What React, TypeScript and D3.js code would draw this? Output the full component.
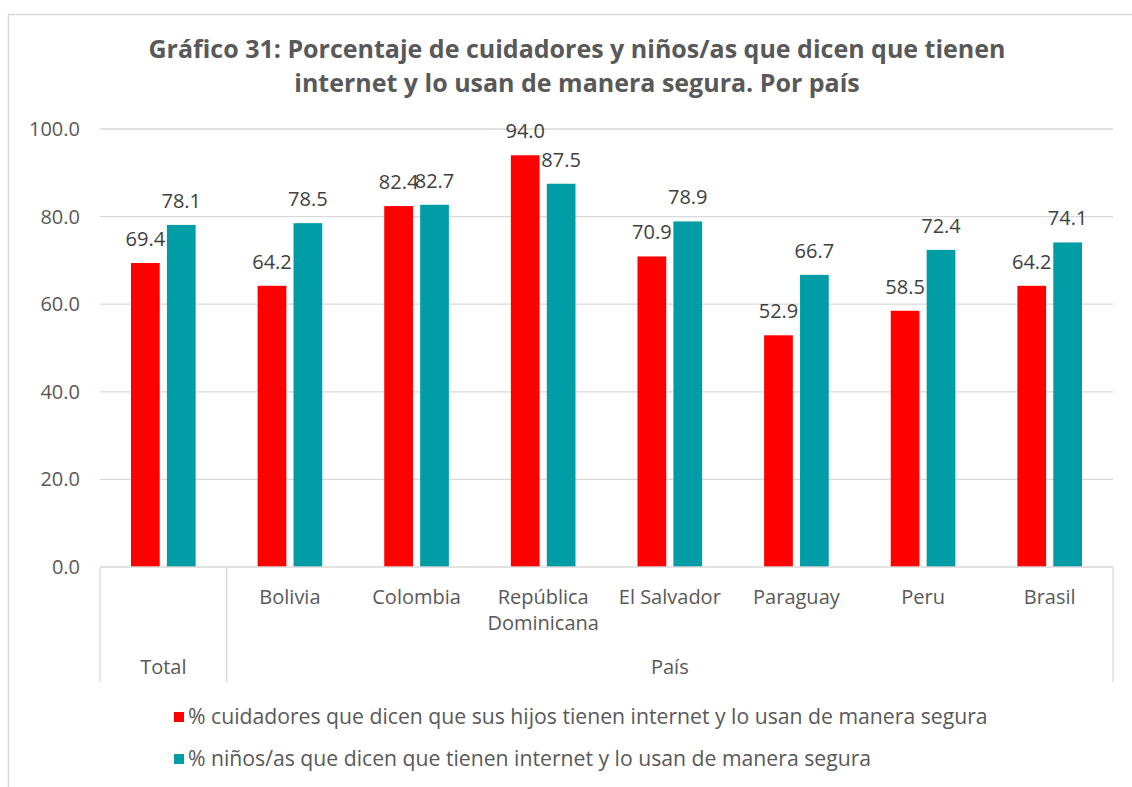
import React, { useEffect, useRef } from 'react';
import * as d3 from 'd3';

// values
const categories = ["Total", "Bolivia", "Colombia", "República Dominicana", "El Salvador", "Paraguay", "Peru", "Brasil"];
const categoryLines = [[], ["Bolivia"], ["Colombia"], ["República", "Dominicana"], ["El Salvador"], ["Paraguay"], ["Peru"], ["Brasil"]];
const groupNames = ["Total", "País"];
const groupSpans = [1, 7];
const cuidadores = [69.4, 64.2, 82.4, 94.0, 70.9, 52.9, 58.5, 64.2];
const ninos = [78.1, 78.5, 82.7, 87.5, 78.9, 66.7, 72.4, 74.1];
const seriesNames = [
  "% cuidadores que dicen que sus hijos tienen internet y lo usan de manera segura",
  "% niños/as que dicen que tienen internet y lo usan de manera segura",
];
const seriesColors = ["#FF0000", "#009DA7"];
const yTicks = [0, 20, 40, 60, 80, 100];
const titleLines = [
  "Gráfico 31: Porcentaje de cuidadores y niños/as que dicen que tienen",
  "internet y lo usan de manera segura. Por país",
];

const FONT = "'Open Sans', Lato, sans-serif";
const GRID = "#D9D9D9";
const TEXT = "#595959";

const App = () => {
  const ref = useRef<SVGSVGElement | null>(null);

  useEffect(() => {
    const svg = d3.select(ref.current);
    svg.selectAll("*").remove();

    const W = 1132, H = 787;
    const left = 100, right = 1113, top = 129, bottom = 567;

    // outer frame
    svg.append("rect")
      .attr("x", 8.5).attr("y", 14.5)
      .attr("width", 1160).attr("height", 800)
      .attr("fill", "white")
      .attr("stroke", GRID).attr("stroke-width", 1.5);

    // title
    svg.append("text")
      .attr("x", 577).attr("y", 58)
      .attr("text-anchor", "middle")
      .style("font-family", FONT).style("font-size", "25px").style("font-weight", "bold")
      .attr("fill", TEXT)
      .selectAll("tspan")
      .data(titleLines)
      .enter()
      .append("tspan")
      .attr("x", 577)
      .attr("dy", (d, i) => i === 0 ? 0 : 34)
      .text(d => d);

    const y = d3.scaleLinear().domain([0, 100]).range([bottom, top]);
    const x0 = d3.scaleBand().domain(categories).range([left, right]);
    const x1 = d3.scaleBand().domain(["0", "1"])
      .range([31, x0.bandwidth() - 31])
      .paddingInner(0.2);

    // gridlines + tick labels
    yTicks.forEach(t => {
      if (t > 0) {
        svg.append("line")
          .attr("x1", left).attr("x2", right)
          .attr("y1", y(t)).attr("y2", y(t))
          .attr("stroke", GRID).attr("stroke-width", 1.3);
      }
      svg.append("text")
        .attr("x", 80).attr("y", y(t) + 7)
        .attr("text-anchor", "end")
        .style("font-family", FONT).style("font-size", "20px")
        .attr("fill", TEXT)
        .text(d3.format(".1f")(t));
    });

    // bars
    const series = [cuidadores, ninos];
    series.forEach((vals, s) => {
      categories.forEach((c, i) => {
        const bx = (x0(c) as number) + (x1(String(s)) as number);
        svg.append("rect")
          .attr("x", bx).attr("y", y(vals[i]))
          .attr("width", x1.bandwidth())
          .attr("height", bottom - y(vals[i]))
          .attr("fill", seriesColors[s]);
      });
    });

    // data labels (drawn after bars so overlaps look like the original)
    series.forEach((vals, s) => {
      categories.forEach((c, i) => {
        const cx = (x0(c) as number) + (x1(String(s)) as number) + x1.bandwidth() / 2;
        svg.append("text")
          .attr("x", cx).attr("y", y(vals[i]) - 17)
          .attr("text-anchor", "middle")
          .style("font-family", FONT).style("font-size", "20px")
          .attr("fill", "#404040")
          .text(d3.format(".1f")(vals[i]));
      });
    });

    // category axis (two levels)
    svg.append("line")
      .attr("x1", left).attr("x2", right)
      .attr("y1", bottom).attr("y2", bottom)
      .attr("stroke", GRID).attr("stroke-width", 1.3);

    categories.forEach((c, i) => {
      categoryLines[i].forEach((ln, j) => {
        svg.append("text")
          .attr("x", (x0(c) as number) + x0.bandwidth() / 2)
          .attr("y", 604 + j * 26)
          .attr("text-anchor", "middle")
          .style("font-family", FONT).style("font-size", "20px")
          .attr("fill", TEXT)
          .text(ln);
      });
    });

    let start = 0;
    const seps = [left];
    groupNames.forEach((g, k) => {
      const gx0 = x0(categories[start]) as number;
      const gx1 = (x0(categories[start + groupSpans[k] - 1]) as number) + x0.bandwidth();
      seps.push(gx1);
      svg.append("text")
        .attr("x", (gx0 + gx1) / 2).attr("y", 674)
        .attr("text-anchor", "middle")
        .style("font-family", FONT).style("font-size", "20px")
        .attr("fill", TEXT)
        .text(g);
      start += groupSpans[k];
    });
    seps.forEach(sx => {
      svg.append("line")
        .attr("x1", sx).attr("x2", sx)
        .attr("y1", bottom).attr("y2", 682)
        .attr("stroke", GRID).attr("stroke-width", 1.3);
    });

    // legend
    seriesNames.forEach((n, s) => {
      const ly = 717 + s * 42;
      svg.append("rect")
        .attr("x", 174).attr("y", ly - 5)
        .attr("width", 10).attr("height", 10)
        .attr("fill", seriesColors[s]);
      svg.append("text")
        .attr("x", 188).attr("y", ly + 7)
        .style("font-family", FONT).style("font-size", "21.2px")
        .attr("fill", TEXT)
        .text(n);
    });

    svg.attr("width", W).attr("height", H);
  }, []);

  return (
    <svg ref={ref} width={1132} height={787}
      style={{ position: "absolute", left: 0, top: 0, background: "white" }} />
  );
};

export default App;
